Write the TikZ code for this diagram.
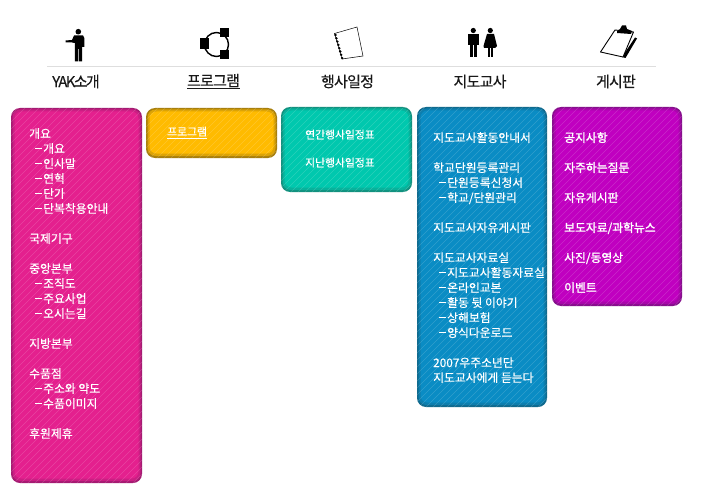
\documentclass[tikz,border=0pt]{standalone}
\usepackage{xcolor}
\usepackage{fontspec}
\newfontfamily\kr[FakeBold=.35]{Noto Sans CJK KR}
\newfontfamily\krb[FakeBold=1.5]{Noto Sans CJK KR}
\newfontfamily\krh[LetterSpace=-5,FakeBold=.3]{Noto Sans CJK KR}
\usepackage{tikz}
\usetikzlibrary{positioning}
\definecolor{pinkin}{HTML}{E4208E}
\definecolor{pinkout}{HTML}{A51A72}
\definecolor{yelin}{HTML}{FFBB00}
\definecolor{yelout}{HTML}{A87F0C}
\definecolor{tealin}{HTML}{00C8AE}
\definecolor{tealout}{HTML}{12917F}
\definecolor{bluein}{HTML}{0A8CC4}
\definecolor{blueout}{HTML}{0F6A8E}
\definecolor{purin}{HTML}{C000C0}
\definecolor{purout}{HTML}{860F8C}
\newcommand{\sub}{\hspace*{6pt}\rule[3.6pt]{6.5pt}{1.1pt}\hspace{1.5pt}}
\tikzset{
  headlabel/.style={font=\krh\fontsize{15}{15}\selectfont, text=black!90, inner sep=0pt},
  paneltext/.style={font=\kr\fontsize{11.8}{15}\selectfont, text=white, align=left, anchor=north west, inner sep=0pt},
  stripe/.style={white, opacity=.16, line width=.5pt},
  icon/.style={fill=black, draw=none}
}
% x0 y0 x1 y1 inner outer
\newcommand{\panelbox}[6]{
  \fill[#6, rounded corners=9] (#1,#2) rectangle (#3,#4);
  \fill[#5!60!#6, rounded corners=8] ({#1+1.5},{#2+1.5}) rectangle ({#3-1.5},{#4-2});
  \fill[#5, rounded corners=7] ({#1+3.5},{#2+3.5}) rectangle ({#3-3.5},{#4-4.5});
  \begin{scope}
    \clip[rounded corners=9] (#1,#2) rectangle (#3,#4);
    \foreach \k in {-500,-493,...,700}
      \draw[stripe] (\k,500) -- ({\k+500},0);
  \end{scope}
}
\begin{document}
\begin{tikzpicture}[x=1pt,y=-1pt]
\useasboundingbox (0,0) rectangle (709,500);
\fill[white] (0,0) rectangle (709,500);
\draw[black!13, line width=.8pt] (47,66.5) -- (656,66.5);

% man
\fill[icon] (78.3,31.7) circle (2.8);
\fill[icon] (65.5,40.5) -- (72,40) -- (74,35.5) -- (83,35.5) -- (84.3,38) -- (84.3,47) -- (82,47)
  -- (82,61.5) -- (78.8,61.5) -- (78.8,49) -- (78,49) -- (78,61.5) -- (74.8,61.5) -- (74.8,43) -- (72,42.5) -- (65.5,42.5) -- cycle;
% ring with squares
\draw[line width=1.4pt] (216.5,44.5) circle (12);
\fill[icon] (200,38.5) rectangle (208.5,49);
\fill[icon] (220,28) rectangle (229,37.5);
\fill[icon] (220,50) rectangle (229,59.5);
% notebook
\draw[line width=.5pt] (334.5,33.5) -- (357,27) -- (363,56) -- (342,59) -- cycle;
\foreach \t in {0,...,7}
  \fill[icon] ({335.5+\t*.95},{35+\t*3.3}) circle (1.3);
% man and woman
\fill[icon] (473.3,30.5) circle (2.6);
\fill[icon] (467.5,34) rectangle (479.3,45);
\fill[icon] (470,45) rectangle (473,57.5);
\fill[icon] (474,45) rectangle (477,57.5);
\fill[icon] (490.3,30.5) circle (2.6);
\fill[icon] (487,34) -- (494,34) -- (497,46) -- (495,48) -- (484,48) -- (483.5,46) -- cycle;
\fill[icon] (487.5,48) rectangle (489.5,57.5);
\fill[icon] (491,48) rectangle (493,57.5);
% clipboard
\fill[icon] (635,37.5) -- (637,38.5) -- (625.5,58) -- (622,57) -- cycle;
\draw[line width=.9pt, fill=white, line join=round] (615,30) -- (633.5,32) -- (623,57) -- (600.5,52) -- cycle;
\fill[icon] (617,31) -- (620,29) -- (622,25.5) -- (626,25.5) -- (627,29) -- (632,31) -- (631,34) -- (617,33) -- cycle;

\node[headlabel] (yak) at (76,81.5) {\addfontfeature{LetterSpace=-11}YAK소개};
\node[headlabel] (prog) at (213.5,81.5) {\underline{프로그램}};
\node[headlabel] (event) at (347.5,81.5) {행사일정};
\node[headlabel] (teacher) at (480,81.5) {지도교사};
\node[headlabel] (board) at (616,81.5) {게시판};

\panelbox{11}{108}{142}{483}{pinkin}{pinkout}
\panelbox{146}{108}{277}{158}{yelin}{yelout}
\panelbox{281}{107}{412}{192}{tealin}{tealout}
\panelbox{417}{107}{547}{407}{bluein}{blueout}
\panelbox{552}{107}{682}{306}{purin}{purout}

\node[paneltext] (yaklist) at (29,128) {개요\\
\sub 개요\\
\sub 인사말\\
\sub 연혁\\
\sub 단가\\
\sub 단복착용안내\\
~\\
국제기구\\
~\\
중앙본부\\
\sub 조직도\\
\sub 주요사업\\
\sub 오시는길\\
~\\
지방본부\\
~\\
수품점\\
\sub 주소와 약도\\
\sub 수품이미지\\
~\\
후원제휴};
\node[paneltext, font=\kr\fontsize{10.8}{15}\selectfont] (proglist) at (167,126.5) {\underline{프로그램}};
\node[paneltext, font=\kr\fontsize{10.8}{28}\selectfont] (eventlist) at (305,129.5) {연간행사일정표\\지난행사일정표};
\node[paneltext] (teacherlist) at (433,132) {지도교사활동안내서\\
~\\
학교단원등록관리\\
\sub 단원등록신청서\\
\sub 학교/단원관리\\
~\\
지도교사자유게시판\\
~\\
지도교사자료실\\
\sub 지도교사활동자료실\\
\sub 온라인교본\\
\sub 활동 뒷 이야기\\
\sub 상해보험\\
\sub 양식다운로드\\
~\\
2007우주소년단\\
지도교사에게 듣는다};
\node[paneltext, font=\krb\fontsize{11.8}{30}\selectfont] (boardlist) at (564,132) {공지사항\\자주하는질문\\자유게시판\\보도자료/과학뉴스\\사진/동영상\\이벤트};
\end{tikzpicture}
\end{document}
